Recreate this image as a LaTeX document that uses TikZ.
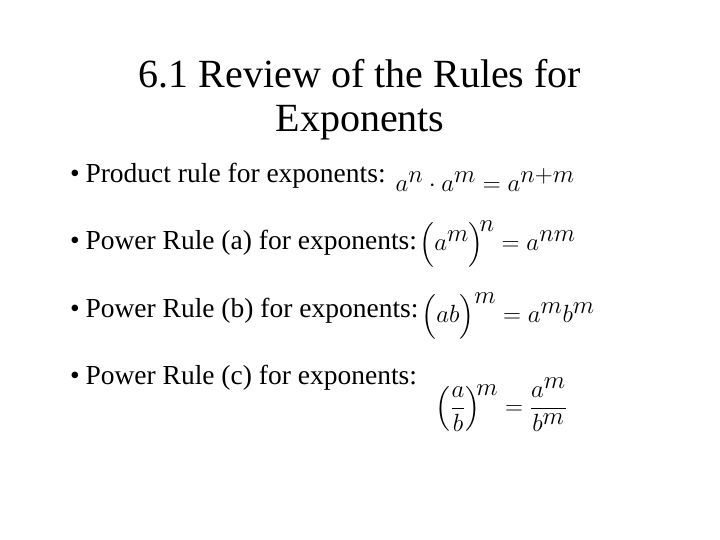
\documentclass[tikz,border=0pt]{standalone}
\usepackage{amsmath}
\usepackage{fontspec}
\setmainfont{Liberation Serif}
\begin{document}
\begin{tikzpicture}[x=1pt,y=-1pt,
  title/.style={font=\fontsize{40}{44}\selectfont, align=center},
  item/.style={font=\fontsize{27.5}{30}\selectfont, anchor=west},
  blt/.style={font=\fontsize{27.5}{30}\selectfont},
  eq/.style={font=\fontsize{46}{50}\selectfont, anchor=west}]
\useasboundingbox (0,0) rectangle (720,540);
\node[title] (t) at (360,100) {6.1 Review of the Rules for\\Exponents};
\foreach \y/\n/\s in {176/b1/Product rule for exponents:,243/b2/Power Rule (a) for exponents:,311/b3/Power Rule (b) for exponents:,378/b4/Power Rule (c) for exponents:}{
  \node[blt] (\n d) at (75,\y) {•};
  \node[item] (\n) at (82,\y) {\s};
}
\node[eq] (e1) at (392,180) {$a^n\cdot a^m = a^{n+m}$};
\node[eq] (e2) at (416,244) {$\Bigl(a^m\Bigr)^{\!n} = a^{nm}$};
\node[eq] (e3) at (418,316) {$\Bigl(ab\Bigr)^{m} = a^m b^m$};
\node[eq] (e4) at (432,405) {$\left(\dfrac{a}{b}\right)^{\!m} = \dfrac{a^m}{b^m}$};
\end{tikzpicture}
\end{document}
